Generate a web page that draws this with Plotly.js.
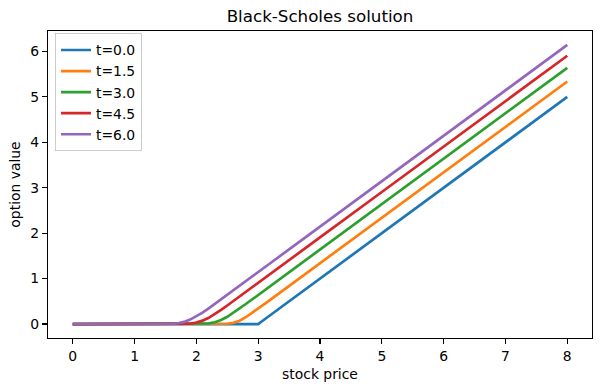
<!DOCTYPE html>
<html>
<head>
<meta charset="utf-8">
<script src="https://cdn.plot.ly/plotly-3.0.1.min.js"></script>
<style>html,body{margin:0;padding:0;background:#fff;}#chart{width:600px;height:391px;}</style>
</head>
<body>
<div id="chart"></div>
<script>
// stock price grid (x values)
const stockPrice = [0, 0.5, 1.0, 1.4, 1.5, 1.6, 1.7, 1.8, 1.9, 2.0, 2.1, 2.2, 2.3, 2.4, 2.5, 2.6, 2.7, 2.8, 2.9, 3.0, 3.1, 3.2, 3.5, 4, 5, 6, 7, 8];
// option values per time (read/estimated from the picture)
const v_t00 = [0, 0, 0, 0, 0, 0, 0, 0, 0, 0, 0, 0, 0, 0, 0, 0, 0, 0, 0, 0, 0.1, 0.2, 0.5, 1.0, 2.0, 3.0, 4.0, 5.0];
const v_t15 = [0, 0, 0, 0, 0, 0, 0, 0, 0, 0, 0, 0, 0, 0.001, 0.006, 0.027, 0.074, 0.150, 0.241, 0.340, 0.439, 0.539, 0.839, 1.339, 2.339, 3.339, 4.339, 5.339];
const v_t30 = [0, 0, 0, 0, 0, 0, 0, 0, 0, 0.001, 0.003, 0.013, 0.039, 0.088, 0.159, 0.247, 0.342, 0.441, 0.540, 0.640, 0.740, 0.840, 1.140, 1.640, 2.640, 3.640, 4.640, 5.640];
const v_t45 = [0, 0, 0, 0, 0, 0, 0, 0.003, 0.011, 0.033, 0.075, 0.138, 0.220, 0.311, 0.408, 0.507, 0.607, 0.707, 0.807, 0.907, 1.007, 1.107, 1.407, 1.907, 2.907, 3.907, 4.907, 5.907];
const v_t60 = [0, 0, 0, 0, 0.001, 0.005, 0.018, 0.047, 0.097, 0.168, 0.253, 0.347, 0.445, 0.544, 0.644, 0.744, 0.844, 0.944, 1.044, 1.144, 1.244, 1.344, 1.644, 2.144, 3.144, 4.144, 5.144, 6.144];
const seriesNames = ["t=0.0", "t=1.5", "t=3.0", "t=4.5", "t=6.0"];
const seriesValues = [v_t00, v_t15, v_t30, v_t45, v_t60];
const colors = ["#1f77b4", "#ff7f0e", "#2ca02c", "#d62728", "#9467bd"];
const xTicks = [0, 1, 2, 3, 4, 5, 6, 7, 8];
const yTicks = [0, 1, 2, 3, 4, 5, 6];

const font = "DejaVu Sans, sans-serif";
const traces = seriesValues.map((v, i) => ({
  x: stockPrice, y: v, type: "scatter", mode: "lines", name: seriesNames[i],
  line: {color: colors[i], width: 2.7}
}));

const axisCommon = {
  showgrid: false, zeroline: false, showline: true, mirror: true,
  linecolor: "#000", linewidth: 1.1, ticks: "outside", ticklen: 5,
  tickwidth: 1.1, tickcolor: "#000",
  tickfont: {family: font, size: 13.9, color: "#000"}
};

const layout = {
  width: 600, height: 391,
  margin: {l: 48, r: 8, t: 31, b: 53, pad: 0},
  paper_bgcolor: "#fff", plot_bgcolor: "#fff",
  font: {family: font, color: "#000"},
  title: {text: "Black-Scholes solution", font: {family: font, size: 16.7, color: "#000"},
          x: 0.5, xref: "paper", y: 1 - 16/391, yref: "container", yanchor: "middle"},
  xaxis: Object.assign({}, axisCommon, {
    range: [-0.4, 8.4], tickvals: xTicks, ticktext: xTicks.map(String),
    title: {text: "stock price", font: {family: font, size: 13.9, color: "#000"}, standoff: 6}
  }),
  yaxis: Object.assign({}, axisCommon, {
    range: [-0.3072, 6.4512], tickvals: yTicks, ticktext: yTicks.map(String),
    title: {text: "option value", font: {family: font, size: 13.9, color: "#000"}, standoff: 6}
  }),
  showlegend: true,
  legend: {
    x: 0.0129, y: 0.992, xanchor: "left", yanchor: "top",
    bgcolor: "rgba(255,255,255,0.8)", bordercolor: "#cccccc", borderwidth: 1,
    font: {family: font, size: 13.9, color: "#000"}, tracegroupgap: 0
  }
};

Plotly.newPlot("chart", traces, layout, {displayModeBar: false, staticPlot: true});
</script>
</body>
</html>
